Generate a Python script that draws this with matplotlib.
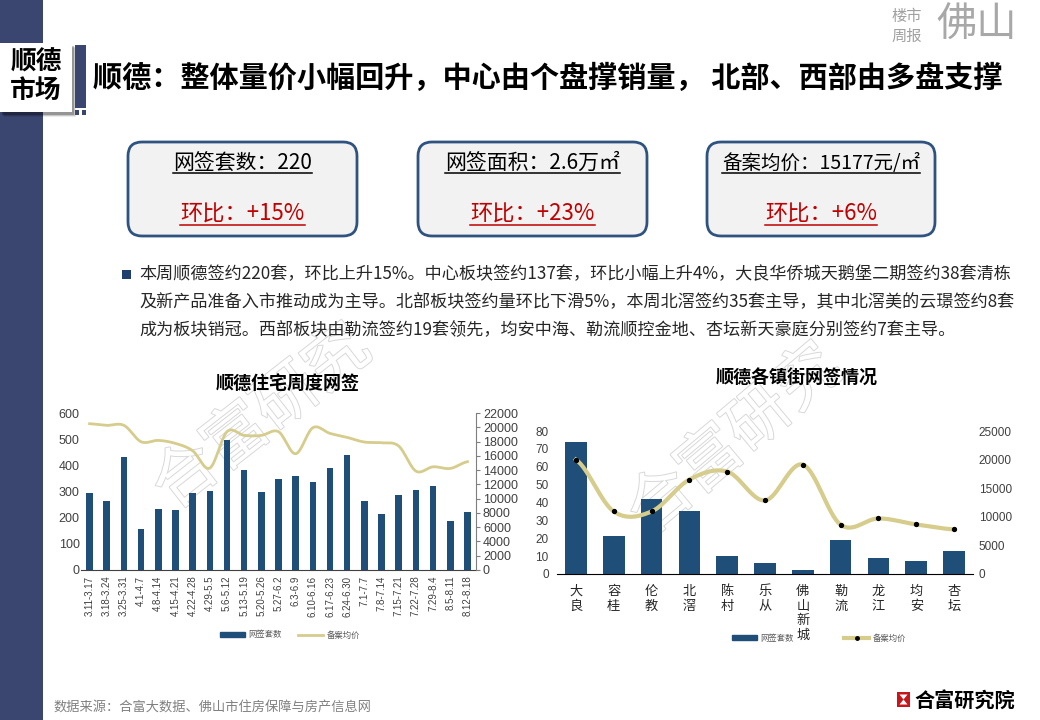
import numpy as np
import matplotlib
matplotlib.use("Agg")
import matplotlib.pyplot as plt
from matplotlib.patches import Rectangle, FancyBboxPatch, Patch, Polygon
from matplotlib.lines import Line2D
import matplotlib.patheffects as pe

plt.rcParams['font.family'] = ['Noto Sans CJK SC', 'DejaVu Sans']
NUM = ['Liberation Sans', 'Noto Sans CJK SC']

# %% data
weeks = ["3.11-3.17", "3.18-3.24", "3.25-3.31", "4.1-4.7", "4.8-4.14", "4.15-4.21",
         "4.22-4.28", "4.29-5.5", "5.6-5.12", "5.13-5.19", "5.20-5.26", "5.27-6.2",
         "6.3-6.9", "6.10-6.16", "6.17-6.23", "6.24-6.30", "7.1-7.7", "7.8-7.14",
         "7.15-7.21", "7.22-7.28", "7.29-8.4", "8.5-8.11", "8.12-8.18"]
week_units = [295, 264, 433, 157, 234, 230, 295, 303, 498, 383, 299, 349,
              360, 337, 391, 441, 264, 215, 287, 307, 322, 188, 220]
week_price = [20500, 20270, 20270, 17970, 18160, 17740, 16710, 14280, 19380, 18860, 18860, 19380,
              16290, 19940, 19140, 18580, 17930, 17830, 17370, 13860, 14460, 14230, 15177]

towns = ["大良", "容桂", "伦教", "北滘", "陈村", "乐从", "佛山新城", "勒流", "龙江", "均安", "杏坛"]
town_units = [74, 21, 42, 35, 10, 6, 2, 19, 9, 7, 13]
town_price = [20000, 10930, 10930, 16510, 17910, 12850, 19130, 8600, 9710, 8660, 7790]

kpi_top = ["网签套数：220", "网签面积：2.6万㎡", "备案均价：15177元/㎡"]
kpi_bottom = ["环比：+15%", "环比：+23%", "环比：+6%"]

title = "顺德：整体量价小幅回升，中心由个盘撑销量， 北部、西部由多盘支撑"
para = ["本周顺德签约220套，环比上升15%。中心板块签约137套，环比小幅上升4%，大良华侨城天鹅堡二期签约38套清栋",
        "及新产品准备入市推动成为主导。北部板块签约量环比下滑5%，本周北滘签约35套主导，其中北滘美的云璟签约8套",
        "成为板块销冠。西部板块由勒流签约19套领先，均安中海、勒流顺控金地、杏坛新天豪庭分别签约7套主导。"]

NAVY = '#3a4570'
BAR = '#1f4e79'
KHAKI = '#d6cc8c'
W, H = 1040, 720


def smooth(y, n=16):
    # catmull-rom curve through the points, like Excel's smoothed line
    y = np.asarray(y, float)
    p = np.concatenate([[y[0]], y, [y[-1]]])
    xs, ys = [], []
    t = np.linspace(0, 1, n, endpoint=False)
    for i in range(len(y) - 1):
        p0, p1, p2, p3 = p[i:i + 4]
        ys.append(0.5 * (2 * p1 + (-p0 + p2) * t + (2 * p0 - 5 * p1 + 4 * p2 - p3) * t ** 2
                         + (-p0 + 3 * p1 - 3 * p2 + p3) * t ** 3))
        xs.append(i + t)
    xs.append([len(y) - 1]); ys.append([y[-1]])
    return np.concatenate(xs), np.concatenate(ys)


def fax(x0, y0, x1, y1):
    return fig.add_axes([x0 / W, 1 - y1 / H, (x1 - x0) / W, (y1 - y0) / H])


fig = plt.figure(figsize=(W / 100, H / 100), dpi=100)
bg = fig.add_axes([0, 0, 1, 1])
bg.set_xlim(0, W); bg.set_ylim(H, 0); bg.axis('off')

# %% page decoration
bg.add_patch(Rectangle((0, 0), 43, H, color=NAVY, lw=0))
for k, a in enumerate([0.25, 0.15, 0.08]):
    bg.add_patch(Rectangle((2 + k, 46 + k), 72, 69, color='black', alpha=a, lw=0))
bg.add_patch(Rectangle((0, 43), 72, 69, color='white', lw=0))
bg.add_patch(Rectangle((75, 45), 11, 63, color=NAVY, lw=0))
bg.add_patch(Rectangle((75, 110), 4, 5, color=NAVY, lw=0))
bg.add_patch(Rectangle((82, 110), 4, 5, color=NAVY, lw=0))
bg.text(36, 62, "顺德", fontsize=18.5, fontweight='bold', ha='center', va='center')
bg.text(36, 90, "市场", fontsize=18.5, fontweight='bold', ha='center', va='center')
bg.text(93, 78, title, fontsize=21, fontweight='bold', ha='left', va='center')

bg.text(907, 17, "楼市", fontsize=11, color='#a0a0a0', ha='center', va='center')
bg.text(907, 36, "周报", fontsize=11, color='#a0a0a0', ha='center', va='center')
bg.text(977, 25, "佛山", fontsize=29, color='#a8a8a8', ha='center', va='center')

# kpi boxes
texts = []
for i, (xl, xr) in enumerate([(128, 357), (418, 647), (707, 935)]):
    bg.add_patch(FancyBboxPatch((xl, 142), xr - xl, 94, boxstyle="round,pad=0,rounding_size=14",
                                fc='#f2f2f2', ec='#2f5380', lw=2))
    cx = (xl + xr) / 2
    t1 = bg.text(cx, 163, kpi_top[i], fontsize=15 if i < 2 else 14, ha='center', va='center', color='black')
    t2 = bg.text(cx, 214, kpi_bottom[i], fontsize=16, ha='center', va='center', color='#c00000')
    texts.append((t1, 'black'))
    texts.append((t2, '#c00000'))

# paragraph
bg.add_patch(Rectangle((122, 270), 9, 9, color='#1f3f6e', lw=0))
for j, line in enumerate(para):
    bg.text(139, 274 + 28 * j, line, fontsize=12.3, color='#262626', ha='left', va='center')

# chart titles
bg.text(288, 383, "顺德住宅周度网签", fontsize=13, fontweight='bold', ha='center', va='center')
bg.text(797, 378, "顺德各镇街网签情况", fontsize=13, fontweight='bold', ha='center', va='center')

# watermarks
for (wx, wy, rot) in [(262, 418, 38), (735, 440, 40)]:
    bg.text(wx, wy, "合富研究", fontsize=46, color='white', rotation=rot, ha='center', va='center',
            path_effects=[pe.Stroke(linewidth=1.4, foreground='#d8d8d8'), pe.Normal()], zorder=0.5)

# footer
bg.text(53, 707, "数据来源：合富大数据、佛山市住房保障与房产信息网", fontsize=9.5, color='#808080',
        ha='left', va='center')
bg.add_patch(Rectangle((897, 692), 13, 15, color='#c8161d', lw=0))
bg.add_patch(Polygon([(899.5, 694.5), (907.5, 694.5), (903.5, 699.5)], color='white', lw=0))
bg.add_patch(Polygon([(899.5, 704.5), (907.5, 704.5), (903.5, 699.5)], color='white', lw=0))
bg.text(965, 700, "合富研究院", fontsize=14.5, fontweight='bold', ha='center', va='center')

# %% left chart: weekly
ax1 = fax(81, 413, 476, 570)
ax1.set_zorder(1); ax1.patch.set_alpha(0)
x = np.arange(len(weeks))
ax1.bar(x, week_units, width=0.38, color=BAR, zorder=2)
ax1.set_xlim(-0.5, len(weeks) - 0.5)
ax1.set_ylim(0, 600)
ax1.set_yticks(range(0, 601, 100))
ax1.set_xticks(x)
ax1.set_xticklabels(weeks, rotation=90, fontsize=7, color='#404040', family=NUM)
for s in ['top', 'left', 'right']:
    ax1.spines[s].set_visible(False)
ax1.spines['bottom'].set_color('#404040')
ax1.tick_params(axis='x', length=0, pad=4)
ax1.tick_params(axis='y', length=0, pad=1, labelsize=9, labelcolor='#404040')
for lab in ax1.get_yticklabels():
    lab.set_family(NUM)
ax1b = ax1.twinx()
xs, ys = smooth(week_price)
ax1b.plot(xs, ys, color=KHAKI, lw=2)
ax1b.set_ylim(0, 22000)
ax1b.set_yticks(range(0, 22001, 2000))
for s in ['top', 'left', 'bottom']:
    ax1b.spines[s].set_visible(False)
ax1b.spines['right'].set_color('#7f7f7f')
ax1b.tick_params(axis='y', length=3, color='#7f7f7f', pad=2, labelsize=9, labelcolor='#404040')
for lab in ax1b.get_yticklabels():
    lab.set_family(NUM)
ax1.legend([Patch(color=BAR), Line2D([], [], color=KHAKI, lw=2)], ["网签套数", "备案均价"],
           loc='center', bbox_to_anchor=(290 / W, 1 - 635 / H), bbox_transform=fig.transFigure,
           ncol=2, frameon=False, fontsize=6, labelcolor='#595959', handlelength=3,
           handleheight=0.6, columnspacing=2, handletextpad=0.4)

# %% right chart: towns
ax2 = fax(557, 431, 973, 574)
ax2.set_zorder(1); ax2.patch.set_alpha(0)
xt = np.arange(len(towns))
ax2.bar(xt, town_units, width=0.57, color=BAR, zorder=2)
ax2.set_xlim(-0.5, len(towns) - 0.5)
ax2.set_ylim(0, 80)
ax2.set_yticks(range(0, 81, 10))
ax2.set_xticks(xt)
ax2.set_xticklabels(["\n".join(t) for t in towns], fontsize=9.5, color='#262626', linespacing=1.15, va='top')
for s in ['top', 'left', 'right']:
    ax2.spines[s].set_visible(False)
ax2.spines['bottom'].set_color('black')
ax2.tick_params(axis='x', length=0, pad=8)
ax2.tick_params(axis='y', length=0, pad=6, labelsize=8.5, labelcolor='#404040')
for lab in ax2.get_yticklabels():
    lab.set_family(NUM)
ax2b = ax2.twinx()
xs, ys = smooth(town_price)
ax2b.plot(xs, ys, color=KHAKI, lw=3, zorder=3)
ax2b.plot(xt, town_price, 'o', color='black', ms=2.8, zorder=4)
ax2b.set_ylim(0, 25000)
ax2b.set_yticks(range(0, 25001, 5000))
for s in ax2b.spines.values():
    s.set_visible(False)
ax2b.tick_params(axis='y', length=0, pad=4, labelsize=8.5, labelcolor='#404040')
for lab in ax2b.get_yticklabels():
    lab.set_family(NUM)
ax2.legend([Patch(color=BAR), Line2D([], [], color=KHAKI, lw=3, marker='o', mfc='black', mec='black', ms=2.5)],
           ["网签套数", "备案均价"], loc='center', bbox_to_anchor=(819 / W, 1 - 638 / H),
           bbox_transform=fig.transFigure, ncol=2, frameon=False, fontsize=6, labelcolor='#595959',
           handlelength=3, handleheight=0.6, columnspacing=6, handletextpad=0.4, numpoints=1)

# %% underlines under the kpi texts
fig.canvas.draw()
r = fig.canvas.get_renderer()
for t, c in texts:
    bb = t.get_window_extent(r)
    yl = H - bb.y0 - 1
    bg.plot([bb.x0, bb.x1], [yl, yl], color=c, lw=1.1)

fig.savefig("out.png", dpi=100)
